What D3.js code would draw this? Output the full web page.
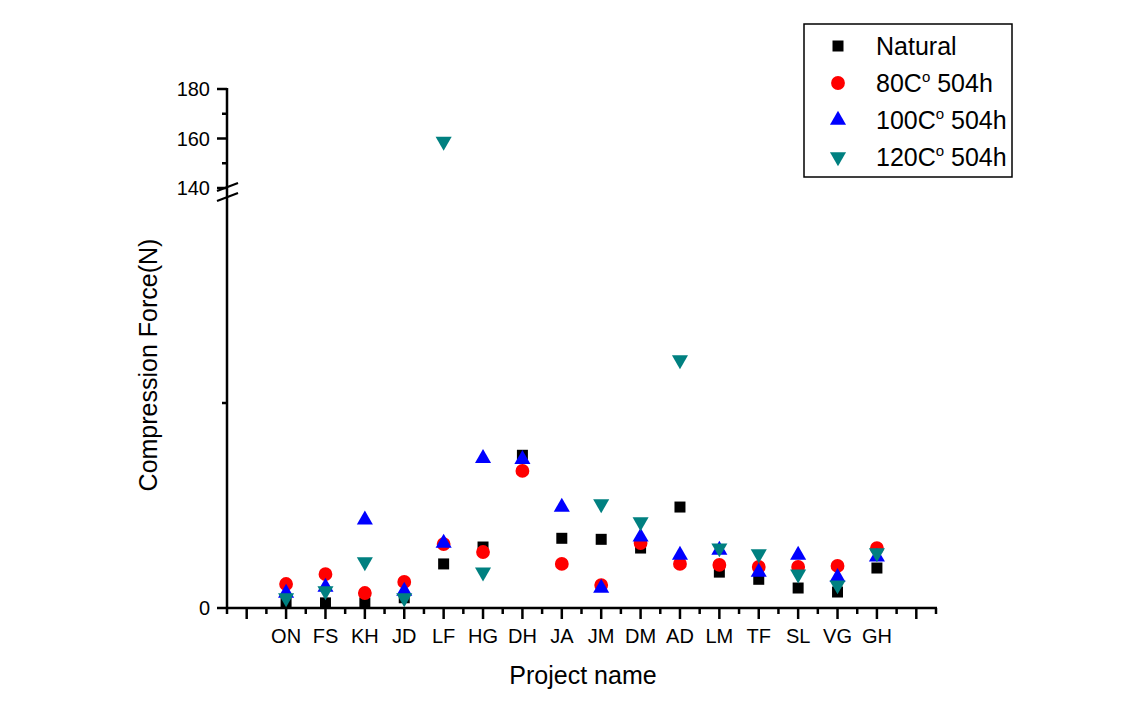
<!DOCTYPE html>
<html>
<head>
<meta charset="utf-8">
<script src="https://cdn.jsdelivr.net/npm/d3@7"></script>
<style>
  html, body { margin: 0; padding: 0; background: #fff; }
  svg { display: block; font-family: Arial, "Liberation Sans", sans-serif; }
</style>
</head>
<body>
<svg id="chart" width="1136" height="723"></svg>
<script>
// ---- data ----
const categories = ["ON","FS","KH","JD","LF","HG","DH","JA","JM","DM","AD","LM","TF","SL","VG","GH"];
const natural = [0.5, 0.5, 0.5, 1.0, 4.3, 5.95, 14.9, 6.8, 6.7, 5.85, 9.85, 3.5, 2.8, 1.95, 1.56, 3.9];
const c80     = [2.34, 3.3, 1.46, 2.54, 6.24, 5.46, 13.37, 4.3, 2.24, 6.34, 4.3, 4.2, 4.0, 4.0, 4.1, 5.85];
const c100    = [1.46, 2.05, 8.6, 1.66, 6.34, 14.6, 14.5, 9.85, 1.95, 6.93, 5.17, 5.66, 3.5, 5.17, 3.0, 4.98];
const c120    = [0.98, 1.66, 4.5, 0.98, 158.8, 3.5, null, null, 10.15, 8.4, 24.2, 5.85, 5.27, 3.3, 2.24, 5.37];
const seriesNames = ["Natural", "80C", "100C", "120C"];
const lowerTicks = [0, 20];
const lowerTickLabels = ["0", ""];
const upperTicks = [140, 150, 160, 170, 180];
const upperTickLabels = ["140", "", "160", "", "180"];

// ---- layout ----
const svg = d3.select("#chart");
const x0 = 227, x1 = 936, yBase = 608;
const x = d3.scaleLinear().domain([-0.5, categories.length + 1.5]).range([x0, x1]);
const yLow = d3.scaleLinear().domain([0, 40]).range([yBase, 198]);
const yHigh = d3.scaleLinear().domain([140, 180]).range([188, 89]);
const yv = v => v >= 140 ? yHigh(v) : yLow(v);

const axisW = 2.5;
const g = svg.append("g");

// y axis line
g.append("line").attr("x1", x0).attr("x2", x0).attr("y1", yHigh(180) - 1).attr("y2", yBase)
  .attr("stroke", "#000").attr("stroke-width", axisW);
// x axis line
g.append("line").attr("x1", x0 - 1).attr("x2", x1 + 1).attr("y1", yBase).attr("y2", yBase)
  .attr("stroke", "#000").attr("stroke-width", axisW);

// y ticks
function yTicks(vals, labels, scale) {
  vals.forEach((v, i) => {
    const major = labels[i] !== "";
    const yy = scale(v);
    g.append("line").attr("x1", x0 - (major ? 10 : 5)).attr("x2", x0).attr("y1", yy).attr("y2", yy)
      .attr("stroke", "#000").attr("stroke-width", axisW);
    if (major) {
      g.append("text").attr("x", 210).attr("y", yy).attr("dy", "0.36em")
        .attr("text-anchor", "end").attr("font-size", 20).attr("fill", "#000").text(labels[i]);
    }
  });
}
yTicks(lowerTicks, lowerTickLabels, yLow);
yTicks(upperTicks, upperTickLabels, yHigh);

// break marks
[[0, 0], [0, 10]].forEach(([dx, dy]) => {
  g.append("line").attr("x1", 217).attr("y1", 191 + dy).attr("x2", 238).attr("y2", 183 + dy)
    .attr("stroke", "#000").attr("stroke-width", 2);
});

// x ticks
for (let t = -0.5; t <= categories.length + 1.5 + 1e-9; t += 0.5) {
  const major = Math.abs(t - Math.round(t)) < 1e-9;
  const xx = x(t);
  g.append("line").attr("x1", xx).attr("x2", xx).attr("y1", yBase).attr("y2", yBase + (major ? 11 : 6))
    .attr("stroke", "#000").attr("stroke-width", axisW);
}
categories.forEach((c, i) => {
  g.append("text").attr("x", x(i + 1)).attr("y", 643).attr("text-anchor", "middle")
    .attr("font-size", 20).attr("fill", "#000").text(c);
});

// axis titles
g.append("text").attr("x", 583).attr("y", 684).attr("text-anchor", "middle")
  .attr("font-size", 25).attr("fill", "#000").text("Project name");
g.append("text").attr("transform", "translate(157,365) rotate(-90)").attr("text-anchor", "middle")
  .attr("font-size", 25).attr("fill", "#000").text("Compression Force(N)");

// markers
const styles = [
  { data: natural, color: "#000000", sym: d3.symbolSquare, size: 121, rot: 0 },
  { data: c80, color: "#ff0000", sym: d3.symbolCircle, size: 150, rot: 0 },
  { data: c100, color: "#0000ff", sym: d3.symbolTriangle, size: 112, rot: 0 },
  { data: c120, color: "#008080", sym: d3.symbolTriangle, size: 112, rot: 180 }
];
styles.forEach(s => {
  const path = d3.symbol().type(s.sym).size(s.size)();
  g.append("g").selectAll("path")
    .data(s.data.map((v, i) => ({ v, i })).filter(d => d.v !== null))
    .join("path")
    .attr("d", path)
    .attr("transform", d => `translate(${x(d.i + 1)},${yv(d.v)}) rotate(${s.rot})`)
    .attr("fill", s.color);
});

// legend
const lg = svg.append("g");
lg.append("rect").attr("x", 804).attr("y", 24).attr("width", 208).attr("height", 153)
  .attr("fill", "#fff").attr("stroke", "#000").attr("stroke-width", 1.5);
const legY = [46, 83, 120, 157];
styles.forEach((s, i) => {
  lg.append("path").attr("d", d3.symbol().type(s.sym).size(s.size)())
    .attr("transform", `translate(838,${legY[i]}) rotate(${s.rot})`).attr("fill", s.color);
  const t = lg.append("text").attr("x", 876).attr("y", legY[i] + 9).attr("font-size", 25).attr("fill", "#000");
  if (i === 0) {
    t.text(seriesNames[i]);
  } else {
    t.append("tspan").text(seriesNames[i]);
    t.append("tspan").attr("font-size", 15).attr("dy", -10).text("o");
    t.append("tspan").attr("dy", 10).text(" 504h");
  }
});
</script>
</body>
</html>
